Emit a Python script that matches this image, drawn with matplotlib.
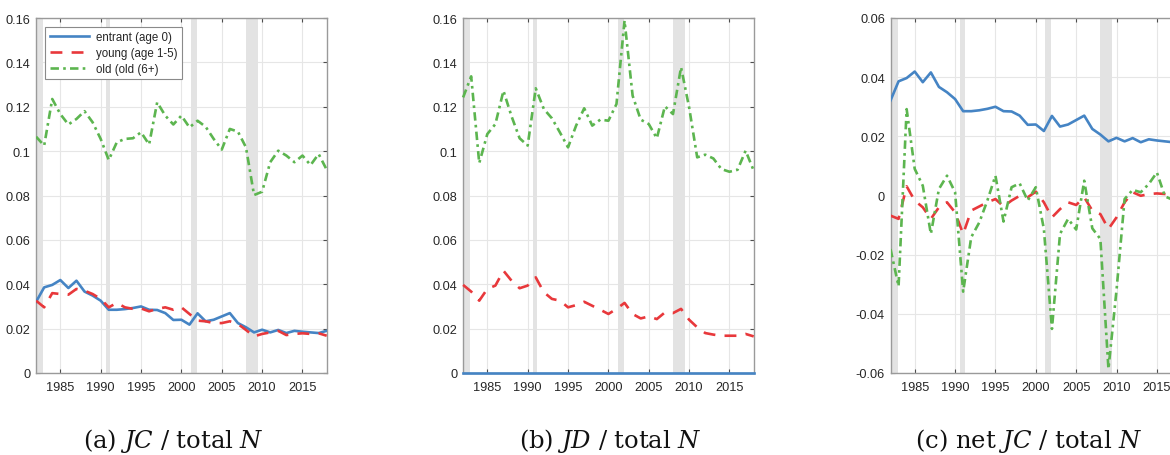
import numpy as np
import matplotlib
matplotlib.use("Agg")
import matplotlib.pyplot as plt

plt.rcParams['font.family'] = ['Liberation Sans', 'DejaVu Sans']
plt.rcParams['mathtext.fontset'] = 'custom'
plt.rcParams['mathtext.rm'] = 'DejaVu Serif'
plt.rcParams['mathtext.it'] = 'DejaVu Serif:italic'

years = np.arange(1982, 2019)

# Job creation / total employment
jc_entrant = [0.0321, 0.0386, 0.0397, 0.0419, 0.0383, 0.0416, 0.0367, 0.0349, 0.0326, 0.0285,
              0.0285, 0.0288, 0.0293, 0.0300, 0.0285, 0.0284, 0.0270, 0.0239, 0.0240, 0.0218,
              0.0269, 0.0233, 0.0240, 0.0255, 0.0270, 0.0225, 0.0206, 0.0183, 0.0195, 0.0183,
              0.0194, 0.0180, 0.0190, 0.0186, 0.0183, 0.0180, 0.0190]
jc_young = [0.0326, 0.0296, 0.0360, 0.0356, 0.0353, 0.0379, 0.0371, 0.0356, 0.0334, 0.0296,
            0.0316, 0.0296, 0.0289, 0.0291, 0.0278, 0.0289, 0.0296, 0.0285, 0.0296, 0.0266,
            0.0236, 0.0233, 0.0225, 0.0225, 0.0233, 0.0221, 0.0194, 0.0165, 0.0176, 0.0183,
            0.0190, 0.0171, 0.0176, 0.0179, 0.0176, 0.0179, 0.0168]
jc_old = [0.1065, 0.1025, 0.1235, 0.1167, 0.1120, 0.1145, 0.1180, 0.1130, 0.1055, 0.0960,
          0.1040, 0.1055, 0.1058, 0.1085, 0.1030, 0.1220, 0.1160, 0.1120, 0.1160, 0.1107,
          0.1137, 0.1110, 0.1055, 0.1007, 0.1100, 0.1088, 0.1017, 0.0802, 0.0817, 0.0950,
          0.1002, 0.0980, 0.0950, 0.0980, 0.0937, 0.0987, 0.0916]

# Job destruction / total employment
jd_entrant = [0.0] * len(years)
jd_young = [0.0397, 0.0367, 0.0326, 0.0379, 0.0394, 0.0461, 0.0416, 0.0382, 0.0394, 0.0431,
            0.0364, 0.0334, 0.0326, 0.0296, 0.0306, 0.0321, 0.0303, 0.0285, 0.0266, 0.0289,
            0.0316, 0.0266, 0.0246, 0.0255, 0.0243, 0.0273, 0.0270, 0.0289, 0.0240, 0.0206,
            0.0180, 0.0173, 0.0168, 0.0168, 0.0168, 0.0176, 0.0165]
jd_old = [0.1242, 0.1337, 0.0946, 0.1077, 0.1122, 0.1272, 0.1157, 0.1058, 0.1025, 0.1283,
          0.1190, 0.1148, 0.1084, 0.1017, 0.1115, 0.1193, 0.1115, 0.1142, 0.1137, 0.1212,
          0.1588, 0.1250, 0.1142, 0.1122, 0.1058, 0.1202, 0.1167, 0.1378, 0.1197, 0.0972,
          0.0984, 0.0967, 0.0919, 0.0907, 0.0916, 0.1002, 0.0912]

# Net job creation / total employment
net_entrant = jc_entrant
net_young = [-0.0068, -0.0079, 0.0031, -0.0017, -0.0040, -0.0079, -0.0040, -0.0023, -0.0057, -0.0130,
             -0.0051, -0.0037, -0.0023, -0.0012, -0.0037, -0.0017, -0.0001, -0.0006, 0.0013, -0.0023,
             -0.0074, -0.0046, -0.0023, -0.0032, -0.0006, -0.0051, -0.0063, -0.0113, -0.0074, -0.0023,
             0.0011, -0.0001, 0.0005, 0.0007, 0.0005, 0.0003, 0.0003]
net_old = [-0.0181, -0.0307, 0.0292, 0.0090, 0.0033, -0.0130, 0.0022, 0.0067, 0.0011, -0.0325,
           -0.0141, -0.0091, -0.0017, 0.0067, -0.0088, 0.0028, 0.0041, -0.0017, 0.0028, -0.0113,
           -0.0451, -0.0130, -0.0079, -0.0115, 0.0050, -0.0111, -0.0147, -0.0586, -0.0320, -0.0012,
           0.0019, 0.0011, 0.0039, 0.0078, -0.0003, -0.0015, 0.0004]

recessions = [(1981.5, 1982.9), (1990.6, 1991.2), (2001.2, 2001.9), (2007.95, 2009.5)]

labels = ['entrant (age 0)', 'young (age 1-5)', 'old (old (6+)']
colors = ['#4584c4', '#e8383b', '#5cb54f']
styles = ['-', (0, (4.5, 3.5)), (0, (3.2, 1.6, 1.0, 1.6))]

panels = [
    ((jc_entrant, jc_young, jc_old), (0, 0.16), np.arange(0, 0.161, 0.02),
     ['0', '0.02', '0.04', '0.06', '0.08', '0.1', '0.12', '0.14', '0.16'],
     r'(a) $JC$ / total $N$', 173),
    ((jd_entrant, jd_young, jd_old), (0, 0.16), np.arange(0, 0.161, 0.02),
     ['0', '0.02', '0.04', '0.06', '0.08', '0.1', '0.12', '0.14', '0.16'],
     r'(b) $JD$ / total $N$', 610),
    ((net_entrant, net_young, net_old), (-0.06, 0.06), np.arange(-0.06, 0.061, 0.02),
     ['-0.06', '-0.04', '-0.02', '0', '0.02', '0.04', '0.06'],
     r'(c) net $JC$ / total $N$', 1029),
]

W, H = 1170, 456
fig = plt.figure(figsize=(W / 100, H / 100), dpi=100)

lefts = [36.1, 463.1, 890.5]
ax_w = 290.6
ax_top, ax_bot = 19, 374

for i, (series, ylim, yticks, yticklabels, caption, cx) in enumerate(panels):
    ax = fig.add_axes([lefts[i] / W, (H - ax_bot) / H, ax_w / W, (ax_bot - ax_top) / H])
    for r0, r1 in recessions:
        ax.axvspan(r0, r1, color='#e3e3e3', lw=0, zorder=1)
    handles = []
    for s, lab, c, ls in zip(series, labels, colors, styles):
        h, = ax.plot(years, s, color=c, linestyle=ls, lw=1.9, label=lab, zorder=3,
                     clip_on=(i != 1))
        handles.append(h)
    ax.set_xlim(1982, 2018)
    ax.set_ylim(*ylim)
    ax.set_xticks(np.arange(1985, 2016, 5))
    ax.set_yticks(yticks)
    ax.set_yticklabels(yticklabels)
    ax.grid(True, color='#e6e6e6', lw=0.8, zorder=0)
    ax.set_axisbelow(True)
    for sp in ax.spines.values():
        sp.set_color('#9a9a9a')
        sp.set_linewidth(1.0)
    ax.tick_params(direction='in', length=3, width=0.8, color='#4d4d4d',
                   labelsize=9.2, labelcolor='#262626', top=True, right=True, pad=4)
    ax.tick_params(axis='x', pad=6)
    if i == 0:
        leg = ax.legend(handles=handles, loc='upper left', bbox_to_anchor=(0.032, 0.976),
                        borderaxespad=0, fontsize=8.3, handlelength=3.4, handletextpad=0.6,
                        labelspacing=0.33, borderpad=0.4, fancybox=False, framealpha=1,
                        edgecolor='#8a8a8a')
        leg.get_frame().set_linewidth(0.8)
        for t in leg.get_texts():
            t.set_color('#262626')
    fig.text(cx / W, 8 / H, caption, ha='center', va='baseline',
             fontsize=17.5, family='DejaVu Serif', color='#111111')

fig.savefig('out.png', dpi=100)
